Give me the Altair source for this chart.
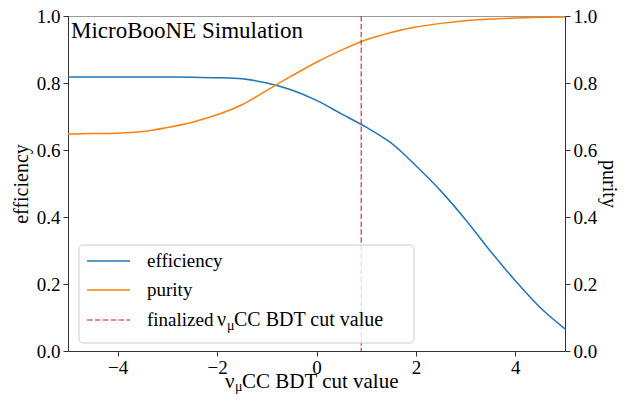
import altair as alt
import pandas as pd

# ---- data ----
bdt_cut = [-5, -4.5, -4, -3.5, -3, -2.5, -2, -1.5, -1, -0.5, 0, 0.5, 1, 1.5, 2, 2.5, 3, 3.5, 4, 4.5, 5]
efficiency = [0.818, 0.818, 0.818, 0.818, 0.818, 0.817, 0.816, 0.8125, 0.800, 0.779, 0.748, 0.708,
              0.668, 0.621, 0.553, 0.478, 0.392, 0.298, 0.210, 0.130, 0.066]
purity = [0.648, 0.649, 0.650, 0.655, 0.667, 0.683, 0.705, 0.735, 0.778, 0.821, 0.862, 0.898,
          0.929, 0.951, 0.967, 0.978, 0.986, 0.991, 0.994, 0.996, 0.997]
cut_value = [0.9]
x_ticks = [-4, -2, 0, 2, 4]
y_ticks = [0.0, 0.2, 0.4, 0.6, 0.8, 1.0]
legend_labels = ["efficiency", "purity", "finalized", "ν", "μ", "CC BDT cut value"]
title_text = "MicroBooNE Simulation"

FONT = "Liberation Serif"
W, H = 497, 335
BLUE, ORANGE, RED = "#1f77b4", "#ff7f0e", "#d62728"

df = pd.DataFrame({"cut": bdt_cut, "efficiency": efficiency, "purity": purity})
one = pd.DataFrame({"k": [0]})

lab = dict(labelFont=FONT, labelFontSize=19, labelColor="black",
           titleFont=FONT, titleFontSize=20, titleFontWeight="normal", titleColor="black",
           tickColor="#333333", tickSize=5, tickWidth=1, domainColor="#333333", domainWidth=1,
           grid=False)

xscale = alt.Scale(domain=[-5, 5], nice=False, zero=False)
xaxis = alt.Axis(values=x_ticks, title=None, labelPadding=2, format="d", **lab)

eff = alt.Chart(df).mark_line(color=BLUE, strokeWidth=1.5, interpolate="catmull-rom").encode(
    x=alt.X("cut:Q", scale=xscale, axis=xaxis),
    y=alt.Y("efficiency:Q", scale=alt.Scale(domain=[0, 1], nice=False),
            axis=alt.Axis(orient="left", values=y_ticks, format=".1f", title="efficiency",
                          titlePadding=5, labelPadding=3, **lab)),
)
pur = alt.Chart(df).mark_line(color=ORANGE, strokeWidth=1.5, interpolate="catmull-rom").encode(
    x=alt.X("cut:Q", scale=xscale, axis=xaxis),
    y=alt.Y("purity:Q", scale=alt.Scale(domain=[0, 1], nice=False),
            axis=alt.Axis(orient="right", values=y_ticks, format=".1f", title="purity",
                          titlePadding=2, labelPadding=3, **lab)),
)
rule = alt.Chart(pd.DataFrame({"cut": cut_value})).mark_rule(
    color=RED, opacity=0.75, strokeDash=[5.5, 2.4], strokeWidth=1.5
).encode(x=alt.X("cut:Q", scale=xscale, axis=xaxis))


def text(s, x, y, size=19, color="black"):
    return alt.Chart(one).mark_text(
        align="left", baseline="alphabetic", font=FONT, fontSize=size, color=color
    ).encode(x=alt.value(x), y=alt.value(y), text=alt.value(s))


def hline(x1, x2, y, color, dash=None, opacity=1.0):
    kw = dict(color=color, strokeWidth=1.5, opacity=opacity)
    if dash:
        kw["strokeDash"] = dash
    return alt.Chart(one).mark_rule(**kw).encode(
        x=alt.value(x1), x2=alt.value(x2), y=alt.value(y))


box = alt.Chart(one).mark_rect(
    fill="white", fillOpacity=0.8, stroke="#cccccc", strokeWidth=1, cornerRadius=4
).encode(x=alt.value(11), x2=alt.value(346), y=alt.value(229), y2=alt.value(327))

legend_layers = [
    box,
    hline(19, 62, 245, BLUE),
    hline(19, 62, 274, ORANGE),
    hline(19, 62, 304, RED, dash=[5.5, 2.4], opacity=0.75),
    text(legend_labels[0], 79, 251),
    text(legend_labels[1], 79, 280),
    text(legend_labels[2], 79, 310),
    text(legend_labels[3], 149, 310, size=20),
    text(legend_labels[4], 159, 314, size=14),
    text(legend_labels[5], 166, 310, size=20),
]

xtitle = [
    text(legend_labels[3], 157, 372, size=21),
    text(legend_labels[4], 167, 375, size=14),
    text(legend_labels[5], 174, 372, size=21),
]
head = text(title_text, 3, 22, size=23)

chart = alt.layer(eff, pur, rule, *legend_layers, *xtitle, head).resolve_scale(
    y="independent"
).properties(
    width=W, height=H,
    padding={"left": 60, "top": 8, "right": 59, "bottom": 43},
    autosize=alt.AutoSizeParams(type="none"),
).configure_view(
    stroke="#999999", strokeWidth=1
).configure_axis(
    labelFont=FONT, titleFont=FONT
).configure_text(font=FONT)

chart.save("out.html", embed_options={"renderer": "svg", "actions": False})
